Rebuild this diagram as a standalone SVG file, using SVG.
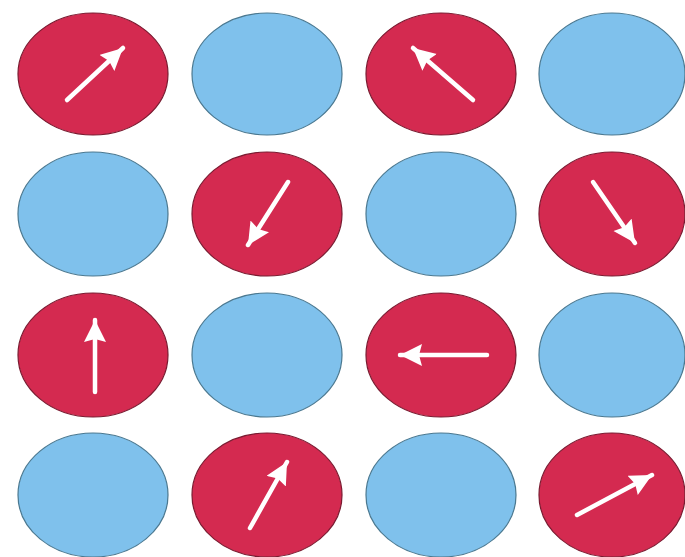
<svg xmlns="http://www.w3.org/2000/svg" width="685" height="557" viewBox="0 0 685 557">
<style>
.r{fill:#d42a50;stroke:#7a1a30;stroke-width:1.2}
.b{fill:#7fc1ec;stroke:#4a7890;stroke-width:1.2}
.a{stroke:#fff;stroke-width:4.5;stroke-linecap:round;fill:none;marker-end:url(#h)}
</style>
<defs>
<marker id="h" markerUnits="userSpaceOnUse" markerWidth="26" markerHeight="24" refX="22" refY="11" orient="auto">
<path d="M0,0 L22,11 L0,22 L3,11 Z" fill="#fff"/>
</marker>
</defs>
<rect width="685" height="557" fill="#fff"/>
<g id="n00"><ellipse class="r" cx="93" cy="74" rx="75" ry="61"/><line class="a" x1="67" y1="100" x2="123" y2="48"/></g>
<g id="n10"><ellipse class="b" cx="267" cy="74" rx="75" ry="61"/></g>
<g id="n20"><ellipse class="r" cx="441" cy="74" rx="75" ry="61"/><line class="a" x1="473" y1="100" x2="413" y2="48"/></g>
<g id="n30"><ellipse class="b" cx="612" cy="74" rx="73" ry="61"/></g>
<g id="n01"><ellipse class="b" cx="93" cy="214" rx="75" ry="62"/></g>
<g id="n11"><ellipse class="r" cx="267" cy="214" rx="75" ry="62"/><line class="a" x1="288" y1="182" x2="248" y2="245"/></g>
<g id="n21"><ellipse class="b" cx="441" cy="214" rx="75" ry="62"/></g>
<g id="n31"><ellipse class="r" cx="612" cy="214" rx="73" ry="62"/><line class="a" x1="593" y1="182" x2="635" y2="243"/></g>
<g id="n02"><ellipse class="r" cx="93" cy="355" rx="75" ry="62"/><line class="a" x1="95" y1="392" x2="95" y2="320"/></g>
<g id="n12"><ellipse class="b" cx="267" cy="355" rx="75" ry="62"/></g>
<g id="n22"><ellipse class="r" cx="441" cy="355" rx="75" ry="62"/><line class="a" x1="487" y1="355" x2="400" y2="355"/></g>
<g id="n32"><ellipse class="b" cx="612" cy="355" rx="73" ry="62"/></g>
<g id="n03"><ellipse class="b" cx="93" cy="495" rx="75" ry="62"/></g>
<g id="n13"><ellipse class="r" cx="267" cy="495" rx="75" ry="62"/><line class="a" x1="250" y1="528" x2="287" y2="462"/></g>
<g id="n23"><ellipse class="b" cx="441" cy="495" rx="75" ry="62"/></g>
<g id="n33"><ellipse class="r" cx="612" cy="495" rx="73" ry="62"/><line class="a" x1="577" y1="515" x2="652" y2="475"/></g>
</svg>
